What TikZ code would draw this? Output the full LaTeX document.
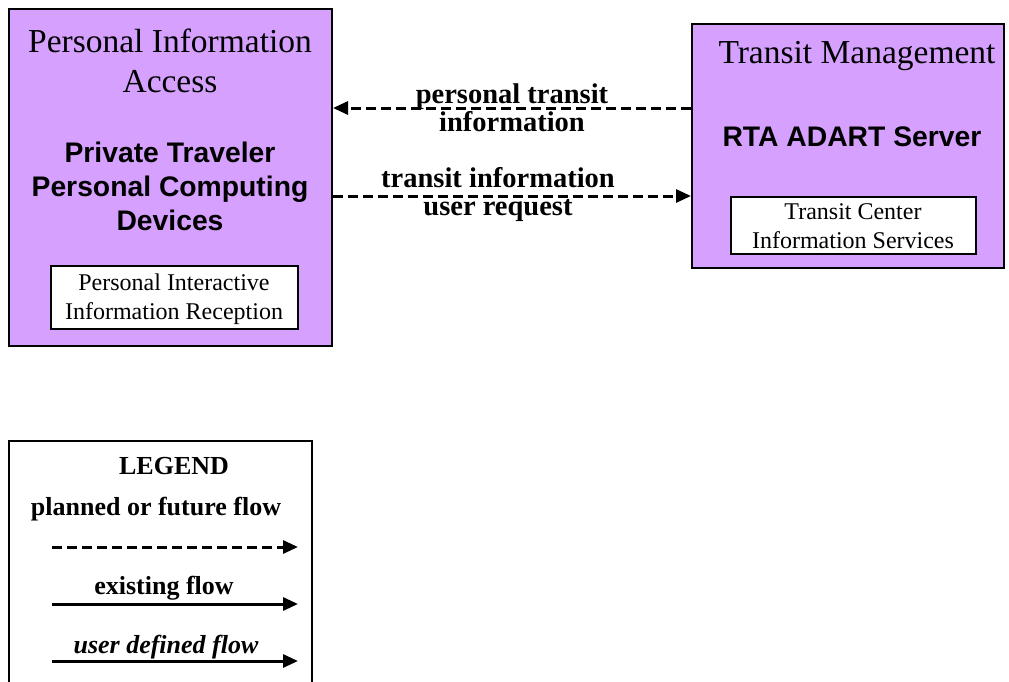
\documentclass[tikz,border=0pt]{standalone}
\usepackage{fontspec}
\setmainfont{Liberation Serif}
\setsansfont{Liberation Sans}
\usetikzlibrary{arrows.meta}
\definecolor{boxpurple}{RGB}{214,160,255}
\tikzset{
  entity/.style={draw=black, line width=2pt, fill=boxpurple, anchor=north west, inner sep=0pt},
  sub/.style={draw=black, line width=1.5pt, fill=white, anchor=north west, inner sep=0pt},
  titletext/.style={font=\fontsize{33.5}{40}\selectfont, align=center, inner sep=0pt},
  nametext/.style={font=\sffamily\bfseries\fontsize{28.3}{34}\selectfont, align=center, inner sep=0pt},
  subtext/.style={font=\fontsize{24}{29}\selectfont, align=center, inner sep=0pt},
  flowlabel/.style={font=\bfseries\fontsize{28.5}{28}\selectfont, align=center, inner sep=0pt},
  legtext/.style={font=\bfseries\fontsize{26}{30}\selectfont, inner sep=0pt},
  future/.style={line width=3pt, dash pattern=on 10pt off 5pt, -{Triangle[length=15pt,width=13pt]}},
  existing/.style={line width=3pt, -{Triangle[length=15pt,width=13pt]}},
}
\begin{document}
\begin{tikzpicture}[x=1pt,y=-1pt]
\useasboundingbox (0,0) rectangle (1009,681);
% left entity
\node[entity, minimum width=323pt, minimum height=337pt] (pia) at (8,8) {};
\node[titletext] (piat) at (170,61) {Personal Information\\Access};
\node[nametext] (piad) at (170,186) {Private Traveler\\Personal Computing\\Devices};
\node[sub, minimum width=247pt, minimum height=63pt] (piir) at (50,265) {};
\node[subtext] (piirt) at (174,299) {Personal Interactive\\Information Reception};
% right entity
\node[entity, minimum width=312pt, minimum height=244pt] (tm) at (691,23) {};
\node[titletext] (tmt) at (857,56) {Transit Management};
\node[nametext] (tmd) at (852,137) {RTA ADART Server};
\node[sub, minimum width=245pt, minimum height=57pt] (tcis) at (730,196) {};
\node[subtext] (tcist) at (853,226) {Transit Center\\Information Services};
% flows
\coordinate (a1s) at (tm.west |- 0,108);
\coordinate (a1e) at (pia.east |- 0,108);
\draw[future] (a1s) -- (a1e);
\node[flowlabel] (l1) at (512,108) {personal transit\\information};
\coordinate (a2s) at (pia.east |- 0,196);
\coordinate (a2e) at (tm.west |- 0,196);
\draw[future] (a2s) -- (a2e);
\node[flowlabel] (l2) at (498,194) {transit information\\user request};
% legend
\draw[line width=2pt] (9,682) -- (9,441) -- (312,441) -- (312,682);
\node[legtext] (lg) at (174,466) {LEGEND};
\node[legtext] (lp) at (156,509) {planned or future flow};
\coordinate (lp1) at (52,547);
\coordinate (lp2) at (298,547);
\draw[future] (lp1) -- (lp2);
\node[legtext] (le) at (164,588) {existing flow};
\coordinate (le1) at (52,604);
\coordinate (le2) at (298,604);
\draw[existing] (le1) -- (le2);
\node[legtext, font=\bfseries\itshape\fontsize{26}{30}\selectfont] (lu) at (166,647) {user defined flow};
\coordinate (lu1) at (52,661);
\coordinate (lu2) at (298,661);
\draw[existing] (lu1) -- (lu2);
\end{tikzpicture}
\end{document}
